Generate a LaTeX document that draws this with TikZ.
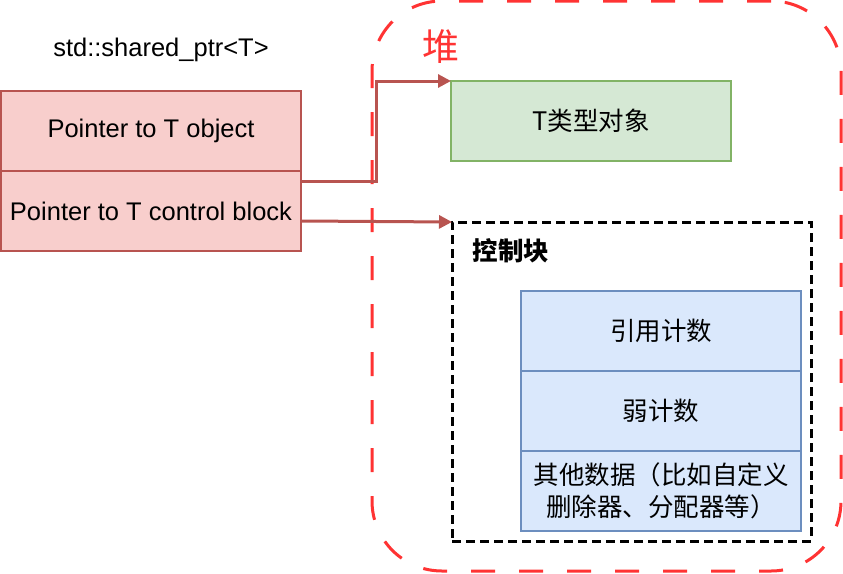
\documentclass[tikz,border=0pt]{standalone}
\usepackage{fontspec}
\setmainfont{Liberation Sans}
\newfontfamily\cjk{Noto Sans CJK SC}
\usepackage{tikz}
\usetikzlibrary{positioning}
\usetikzlibrary{arrows.meta}
\definecolor{heapred}{HTML}{FF3333}
\definecolor{ptrfill}{HTML}{F8CECC}
\definecolor{ptrline}{HTML}{B85450}
\definecolor{objfill}{HTML}{D5E8D4}
\definecolor{objline}{HTML}{82B366}
\definecolor{cntfill}{HTML}{DAE8FC}
\definecolor{cntline}{HTML}{6C8EBF}

\begin{document}
\begin{tikzpicture}[x=1pt,y=-1pt,
    font=\fontsize{25.5}{32}\selectfont,
    zh/.style={font=\fontsize{25.5}{32}\selectfont\cjk},
    cell/.style={draw, line width=2pt, inner sep=0pt, outer sep=0pt,
        minimum height=80pt, align=center},
    ptrcell/.style={cell, fill=ptrfill, draw=ptrline, minimum width=300pt},
    objcell/.style={cell, zh, fill=objfill, draw=objline, minimum width=280pt},
    cntcell/.style={cell, zh, fill=cntfill, draw=cntline, minimum width=280pt},
    heapbox/.style={draw=heapred, line width=3pt, rounded corners=70pt,
        dash pattern=on 24pt off 24pt, inner sep=0pt, outer sep=0pt},
    ctrlbox/.style={draw=black, line width=3pt, dash pattern=on 9pt off 5pt,
        inner sep=0pt, outer sep=0pt},
    ptrarrow/.style={draw=ptrline, line width=3pt,
        -{Triangle[length=13pt,width=13pt]}}]
    \useasboundingbox (0,0) rectangle (843,573);

    % heap
    \node[heapbox, minimum width=469pt, minimum height=570pt] (heap) at (606.5,286) {};
    \node[text=heapred, font=\fontsize{37}{40}\selectfont\cjk] (heaplabel) at (441,47) {堆};

    % shared_ptr
    \node (sp) at (161,50) {std::shared\_ptr<T>};
    \node[ptrcell] (ptrobj) at (151,131) {Pointer to T object};
    \node[ptrcell, below=0pt of ptrobj] (ptrctl) {Pointer to T control block};

    % T object
    \node[objcell] (tobj) at (591,121) {T类型对象};

    % control block
    \node[ctrlbox, minimum width=359pt, minimum height=319pt] (ctrl) at (631.5,381.5) {};
    \node[zh] (ctrllabel) at (511,251) {\bfseries 控制块};
    \node[cntcell] (strong) at (661,331) {引用计数};
    \node[cntcell, below=0pt of strong] (weak) {弱计数};
    \node[cntcell, below=0pt of weak] (other) {其他数据（比如自定义\\删除器、分配器等）};

    % pointers
    \draw[ptrarrow] ([yshift=30pt]ptrctl.east) -| ([xshift=-75pt]tobj.north west) -- (tobj.north west);
    \draw[ptrarrow] ([yshift=-10pt]ptrctl.east) -- (ctrl.north west);
\end{tikzpicture}
\end{document}
